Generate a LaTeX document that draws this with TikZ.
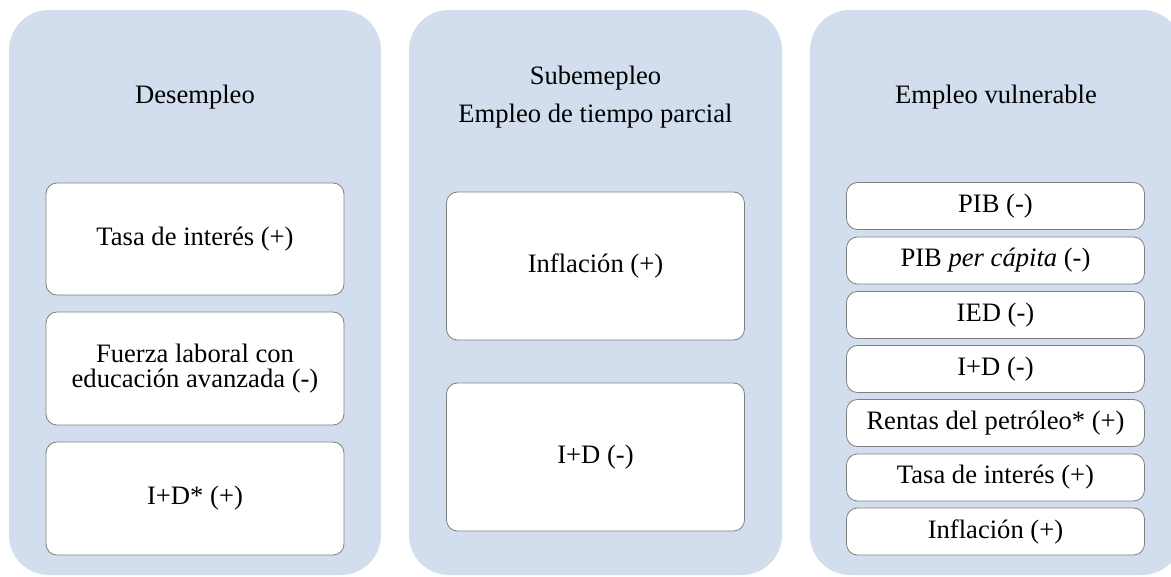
\documentclass[tikz,border=0pt]{standalone}
\usepackage{fontspec}
\setmainfont{Liberation Serif}
\usepackage{tikz}
\definecolor{panelblue}{HTML}{D2DEEE}
\definecolor{boxgray}{HTML}{808080}
\begin{document}
\begin{tikzpicture}[x=1pt,y=-1pt]
\tikzstyle{every node}+=[inner sep=0pt, font=\fontsize{26.6}{25.5}\selectfont]
\tikzstyle{panel}=[fill=panelblue, rounded corners=40pt, minimum width=372pt, minimum height=565pt]
\tikzstyle{factor}=[draw=boxgray, line width=0.8pt, fill=white, rounded corners=11pt, minimum width=298pt, align=center]
\useasboundingbox (0,0) rectangle (1171,577);
\node [panel] (desemp) at (195,292.5) {};
\node [panel, minimum width=373pt] (subemp) at (595.5,292.5) {};
\node [panel] (vulner) at (996,292.5) {};
\node [align=center] (t1) at (195,97) {Desempleo};
\node [align=center, font=\fontsize{26.6}{38}\selectfont] (t2) at (595.5,97) {Subemepleo\\Empleo de tiempo parcial};
\node [align=center] (t3) at (996,97) {Empleo vulnerable};
\node [factor, minimum height=112pt] (d1) at (195,239) {Tasa de interés (+)};
\node [factor, minimum height=113pt] (d2) at (195,368.5) {Fuerza laboral con\\educación avanzada (-)};
\node [factor, minimum height=113pt] (d3) at (195,498.5) {I+D* (+)};
\node [factor, minimum height=148pt] (s1) at (595.5,266) {Inflación (+)};
\node [factor, minimum height=148pt] (s2) at (595.5,457) {I+D (-)};
\node [factor, minimum height=47pt] (v1) at (995.5,206) {PIB (-)};
\node [factor, minimum height=47pt] (v2) at (995.5,260.5) {PIB \textit{per cápita} (-)};
\node [factor, minimum height=47pt] (v3) at (995.5,315) {IED (-)};
\node [factor, minimum height=47pt] (v4) at (995.5,369) {I+D (-)};
\node [factor, minimum height=47pt] (v5) at (995.5,423) {Rentas del petróleo* (+)};
\node [factor, minimum height=47pt] (v6) at (995.5,477.5) {Tasa de interés (+)};
\node [factor, minimum height=47pt] (v7) at (995.5,531.5) {Inflación (+)};
\end{tikzpicture}
\end{document}
